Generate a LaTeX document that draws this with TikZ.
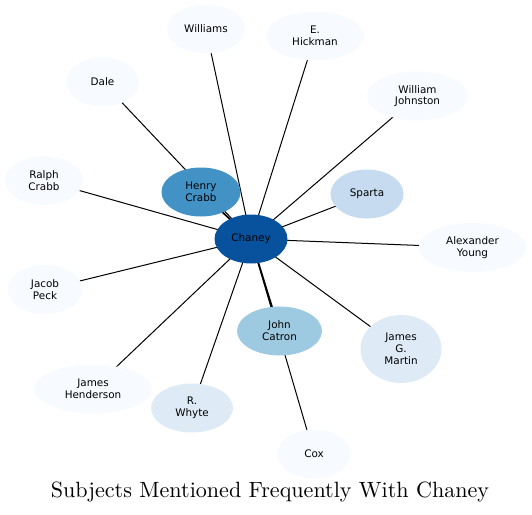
\documentclass[tikz,border=0pt]{standalone}
\usepackage{fontspec}
\newfontfamily\labelfont{DejaVu Sans}
\usetikzlibrary{shapes.geometric,backgrounds}
\definecolor{blA}{HTML}{F7FBFF}
\definecolor{blB}{HTML}{DEEBF7}
\definecolor{blC}{HTML}{C6DBEF}
\definecolor{blD}{HTML}{9ECAE1}
\definecolor{blE}{HTML}{4292C6}
\definecolor{blF}{HTML}{08519C}
\tikzset{
  subj/.style={ellipse,fill=blA,align=center,inner sep=0pt,
    minimum width=#1,minimum height=49pt,font=\labelfont\fontsize{10.4}{11.8}\selectfont},
  subj/.default=73pt,
  tie/.style={line width=1pt},
  heavytie/.style={line width=1.7pt}
}
\begin{document}
\begin{tikzpicture}[x=1pt,y=-1pt]
\useasboundingbox (0,0) rectangle (532,514);
\node[subj,fill=blF] (chaney) at (251,239) {Chaney};
\node[subj=79pt,fill=blE] (hcrabb) at (201,192) {Henry\\Crabb};
\node[subj=85pt,fill=blD] (catron) at (279.5,331) {John\\Catron};
\node[subj,fill=blC] (sparta) at (367,194) {Sparta};
\node[subj=81pt,fill=blB,minimum height=68pt] (martin) at (401,349) {James\\G.\\Martin};
\node[subj=82pt,fill=blB] (whyte) at (192,408) {R.\\Whyte};
\node[subj=78pt] (williams) at (206,29) {Williams};
\node[subj=98pt] (hickman) at (315,36) {E.\\Hickman};
\node[subj] (dale) at (102.5,82) {Dale};
\node[subj=101pt] (johnston) at (417.5,96) {William\\Johnston};
\node[subj=78pt] (rcrabb) at (44,180.5) {Ralph\\Crabb};
\node[subj=75pt] (peck) at (45,289.5) {Jacob\\Peck};
\node[subj=118pt] (henderson) at (93,389) {James\\Henderson};
\node[subj] (cox) at (314,454) {Cox};
\node[subj=108pt] (young) at (472.5,247.5) {Alexander\\Young};
\node[scale=2.21] (title) at (270,492) {Subjects Mentioned Frequently With Chaney};
% edges under the nodes
\begin{scope}[on background layer]
\foreach \n in {sparta,martin,whyte,williams,hickman,dale,johnston,rcrabb,peck,henderson,cox,young}
  \draw[tie] (chaney.center) -- (\n.center);
\foreach \n in {hcrabb,catron}
  \draw[heavytie] (chaney.center) -- (\n.center);
\end{scope}
\end{tikzpicture}
\end{document}
